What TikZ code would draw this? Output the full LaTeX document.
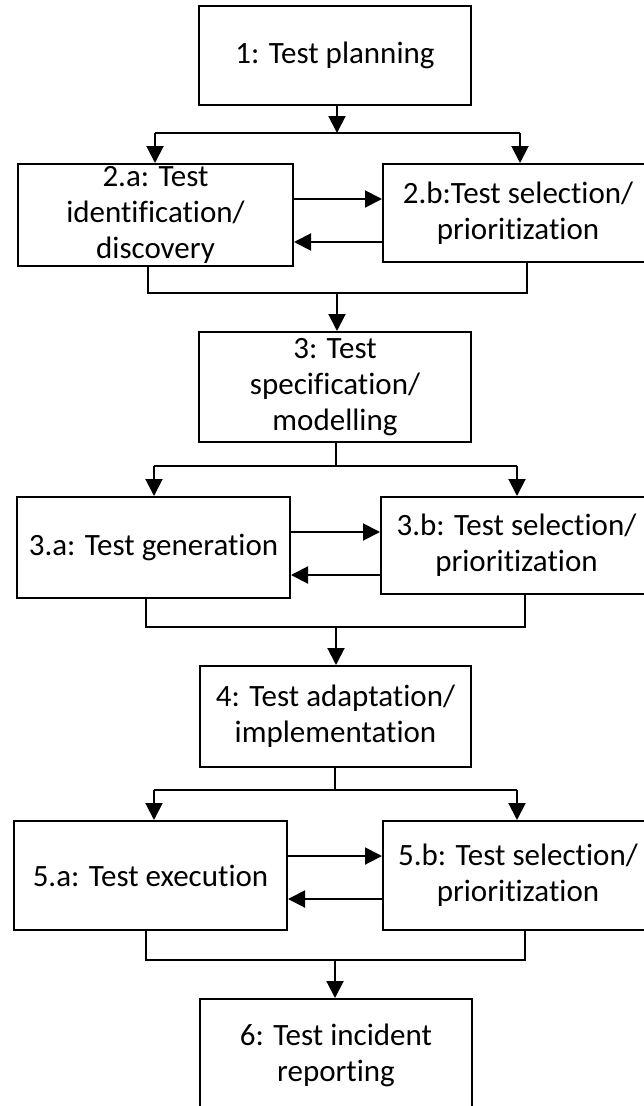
\documentclass[tikz,border=0pt]{standalone}
\usepackage{fontspec}
\setmainfont[Ligatures=NoCommon]{Carlito}
\usetikzlibrary{arrows.meta}
\tikzset{
  box/.style={draw=black, line width=2pt, rectangle, inner sep=0pt, align=center,
    font=\fontsize{31}{36}\selectfont},
  arr/.style={line width=2pt, -{Triangle[length=17pt,width=17pt]}},
  ln/.style={line width=2pt}
}
\begin{document}
\begin{tikzpicture}[x=1pt,y=-1pt]
\useasboundingbox (0,0) rectangle (643,1106);
\node[box, minimum width=272pt, minimum height=99pt] (b1) at (335,55.5) {1: Test planning};
\node[box, minimum width=275pt, minimum height=102pt] (b2a) at (155.5,215) {2.a: Test\\identification/\\discovery};
\node[box, minimum width=270pt, minimum height=98pt] (b2b) at (518,213) {2.b:Test selection/\\prioritization};
\node[box, minimum width=272pt, minimum height=110pt] (b3) at (335,387) {3: Test\\specification/\\modelling};
\node[box, minimum width=273pt, minimum height=101pt] (b3a) at (153.5,547.5) {3.a: Test generation};
\node[box, minimum width=271pt, minimum height=97pt] (b3b) at (516.5,545.5) {3.b: Test selection/\\prioritization};
\node[box, minimum width=271pt, minimum height=101pt] (b4) at (335.5,716.5) {4: Test adaptation/\\implementation};
\node[box, minimum width=273pt, minimum height=109pt] (b5a) at (150.5,875.5) {5.a: Test execution};
\node[box, minimum width=270pt, minimum height=109pt] (b5b) at (518,875.5) {5.b: Test selection/\\prioritization};
\node[box, minimum width=272pt, minimum height=112pt] (b6) at (336,1055) {6: Test incident\\reporting};

% group 2
\coordinate (j1) at (337,133);
\draw[arr] (b1.south -| j1) -- (j1);
\draw[ln] (155,133) coordinate (j1l) -- (520,133) coordinate (j1r);
\draw[arr] (j1l) -- (j1l |- b2a.north);
\draw[arr] (j1r) -- (j1r |- b2b.north);
\draw[arr] (b2a.east |- 0,199) -- (b2b.west |- 0,199);
\draw[arr] (b2b.west |- 0,242) -- (b2a.east |- 0,242);
\coordinate (m1l) at (148,293);
\coordinate (m1r) at (527,293);
\coordinate (m1) at (337,293);
\draw[ln] (m1l |- b2a.south) -- (m1l) -- (m1r) -- (m1r |- b2b.south);
\draw[arr] (m1) -- (m1 |- b3.north);

% group 3
\coordinate (j2) at (336,466);
\draw[ln] (b3.south -| j2) -- (j2);
\draw[ln] (154,466) coordinate (j2l) -- (517,466) coordinate (j2r);
\draw[arr] (j2l) -- (j2l |- b3a.north);
\draw[arr] (j2r) -- (j2r |- b3b.north);
\draw[arr] (b3a.east |- 0,532) -- (b3b.west |- 0,532);
\draw[arr] (b3b.west |- 0,575) -- (b3a.east |- 0,575);
\coordinate (m2l) at (146,627);
\coordinate (m2r) at (525,627);
\coordinate (m2) at (336,627);
\draw[ln] (m2l |- b3a.south) -- (m2l) -- (m2r) -- (m2r |- b3b.south);
\draw[arr] (m2) -- (m2 |- b4.north);

% group 5
\coordinate (j3) at (335,790);
\draw[ln] (b4.south -| j3) -- (j3);
\draw[ln] (154,790) coordinate (j3l) -- (517,790) coordinate (j3r);
\draw[arr] (j3l) -- (j3l |- b5a.north);
\draw[arr] (j3r) -- (j3r |- b5b.north);
\draw[arr] (b5a.east |- 0,856) -- (b5b.west |- 0,856);
\draw[arr] (b5b.west |- 0,899) -- (b5a.east |- 0,899);
\coordinate (m3l) at (146,960);
\coordinate (m3r) at (525,960);
\coordinate (m3) at (335,960);
\draw[ln] (m3l |- b5a.south) -- (m3l) -- (m3r) -- (m3r |- b5b.south);
\draw[arr] (m3) -- (m3 |- b6.north);
\end{tikzpicture}
\end{document}
